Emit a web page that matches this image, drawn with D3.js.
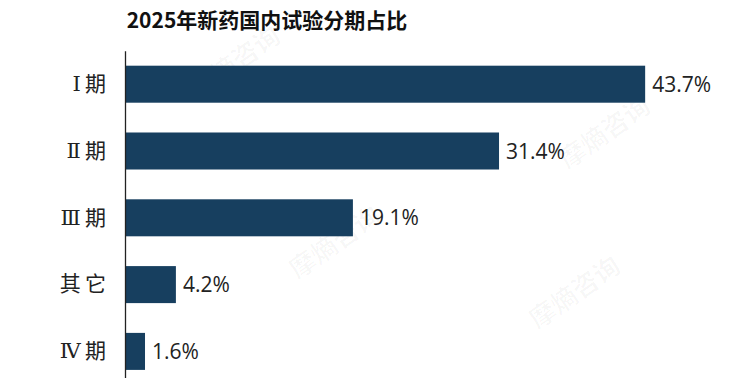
<!DOCTYPE html>
<html><head><meta charset="utf-8">
<script src="https://cdn.jsdelivr.net/npm/d3@7"></script>
<style>body{margin:0;background:#fff}svg{display:block}</style>
</head><body>
<svg id="c" width="752" height="378"></svg>
<script>
const categories = ["Ⅰ期", "Ⅱ期", "Ⅲ期", "其它", "Ⅳ期"];
const values = [43.7, 31.4, 19.1, 4.2, 1.6];
const valueLabels = ["43.7%", "31.4%", "19.1%", "4.2%", "1.6%"];
const title = "2025年新药国内试验分期占比";
const watermark = "摩熵咨询";

const svg = d3.select("#c");

// faint watermarks
const wm = [[610, 140], [240, 70], [580, 300], [340, 250]];
svg.append("g").selectAll("text").data(wm).join("text")
  .attr("transform", d => `translate(${d[0]},${d[1]}) rotate(-35)`)
  .attr("text-anchor", "middle")
  .attr("font-family", "Noto Sans CJK SC")
  .attr("font-weight", "bold")
  .attr("font-size", 26)
  .attr("fill", "#000").attr("fill-opacity", 0.03)
  .text(watermark);

const x = d3.scaleLinear().domain([0, 50]).range([126, 720]);
const y = d3.scaleBand().domain(categories).range([50.8, 384.8]).paddingInner(0.446).paddingOuter(0.223);

svg.append("text")
  .attr("x", 267).attr("y", 28)
  .attr("text-anchor", "middle")
  .attr("font-family", "Noto Sans CJK SC")
  .attr("font-weight", "bold")
  .attr("font-size", 21)
  .attr("fill", "#111")
  .text(title);

svg.append("g").selectAll("rect").data(values).join("rect")
  .attr("x", x(0))
  .attr("y", (d, i) => y(categories[i]))
  .attr("width", d => x(d) - x(0))
  .attr("height", y.bandwidth())
  .attr("fill", "#173f5f");

svg.append("g").selectAll("text").data(values).join("text")
  .attr("x", d => x(d) + 7)
  .attr("y", (d, i) => y(categories[i]) + y.bandwidth() / 2)
  .attr("dy", "0.36em")
  .attr("font-family", "Open Sans")
  .attr("font-size", 21)
  .attr("fill", "#222")
  .text((d, i) => valueLabels[i]);

const axis = d3.axisLeft(y).tickSize(0).tickPadding(19).tickFormat(d => d.charAt(0) + "\u2009" + d.charAt(1));
const ag = svg.append("g").attr("transform", `translate(125,0)`).call(axis);
ag.select(".domain").attr("stroke", "#222").attr("stroke-width", 1.3);
ag.selectAll("text")
  .attr("font-family", "DejaVu Serif, Noto Sans CJK SC")
  .attr("font-size", 21)
  .attr("fill", "#222");
</script>
</body></html>
